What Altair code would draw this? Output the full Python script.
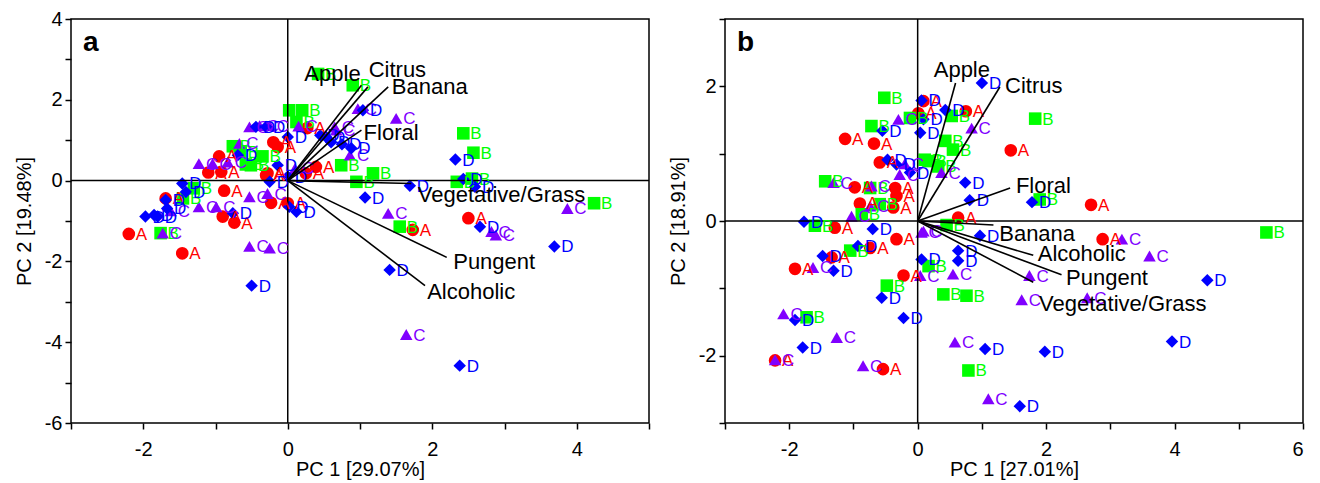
import altair as alt
import pandas as pd

# ---------------- Panel a : scores ----------------
a_A_x = [-2.20, -1.46, -0.88, -0.90, -0.74, -0.23, 0.00, -0.28, -0.14, -0.95, -0.92, -1.69, 0.27, 0.39, 0.25, 1.73, 2.50, -0.20, -1.10, -0.30]
a_A_y = [-1.32, -1.80, -0.25, -0.89, -1.04, -0.55, -0.56, 0.18, 0.83, 0.60, 0.22, -0.44, 1.30, 0.34, 0.18, -1.22, -0.93, 0.95, 0.20, 0.13]
a_B_x = [0.42, 0.90, 0.02, 0.20, 0.12, 0.74, 0.95, 1.18, 1.55, 2.43, 2.57, 2.34, 4.24, 2.55, -0.76, -0.35, -0.51, -0.58, -1.30, -1.45, -1.76, -0.65]
a_B_y = [2.64, 2.36, 1.74, 1.74, 1.45, 0.38, -0.03, 0.18, -1.14, 1.17, 0.69, -0.03, -0.56, 0.05, 0.85, 0.60, 0.38, 0.40, -0.19, -0.44, -1.30, 0.70]
a_C_x = [1.64, 1.39, 2.82, 2.88, 3.87, 1.50, 0.86, 0.67, 0.15, -0.53, -0.25, -1.73, -1.23, -0.99, -0.53, -0.28, -1.23, -1.04, -0.83, -0.53, -0.39, -0.25, -0.67, 0.65, 0.10, 0.97, -1.62]
a_C_y = [-3.81, -0.81, -1.26, -1.35, -0.69, 1.54, 0.63, 1.25, 1.35, -1.63, -1.67, -1.30, -0.65, -0.65, -0.40, -0.32, 0.42, 0.42, 0.46, 1.33, 1.36, 1.36, 0.92, 1.33, 0.30, 1.78, -0.75]
a_D_x = [2.38, 3.69, 1.41, 2.66, -0.50, 2.32, 2.43, 2.59, 1.69, 1.07, 1.04, 0.88, 0.45, 0.60, 0.75, 0.00, 0.02, 0.12, -0.14, -0.25, -0.44, -0.30, -0.69, -1.46, -1.41, -1.69, -1.67, -1.97, -1.80, -1.85, -0.76, 0.53, 0.00]
a_D_y = [-4.58, -1.63, -2.21, -1.14, -2.60, 0.52, 0.04, -0.15, -0.13, -0.42, 1.74, 0.80, 1.12, 0.95, 0.90, 1.08, -0.65, -0.77, 0.38, -0.03, 1.33, 1.33, 0.63, -0.07, -0.28, -0.48, -0.69, -0.89, -0.89, -0.85, -0.81, 1.08, 0.10]

# ---------------- Panel a : loadings ----------------
a_vec_names = ["Apple", "Citrus", "Banana", "Floral", "Vegetative/Grass", "Pungent", "Alcoholic"]
a_vec_x = [1.02, 1.11, 1.39, 1.02, 1.71, 2.20, 1.90]
a_vec_y = [2.36, 2.32, 2.32, 1.25, -0.07, -1.90, -2.60]
a_lab_x = [0.23, 1.12, 1.44, 1.05, 1.80, 2.29, 1.93]
a_lab_y = [2.63, 2.73, 2.31, 1.17, -0.36, -2.01, -2.75]

# ---------------- Panel b : scores ----------------
b_A_x = [1.45, 2.70, 2.88, 0.75, 0.63, 0.01, 0.09, -1.13, -0.68, -0.59, -0.98, -0.35, -0.33, -0.90, -0.38, -1.29, -0.33, -1.91, -1.34, -0.74, -0.22, -0.54, -2.22]
b_A_y = [1.05, 0.24, -0.27, 1.63, 0.05, 1.60, 1.78, 1.22, 1.15, 0.87, 0.50, 0.49, 0.37, 0.26, 0.20, -0.10, -0.27, -0.71, -0.54, -0.40, -0.81, -2.20, -2.07]
b_B_x = [5.43, 1.83, 1.90, 0.43, 0.55, 0.11, 0.32, 0.40, 0.76, 0.45, 0.53, -0.52, -0.72, -1.44, -0.12, 0.17, -0.74, -0.59, -0.87, -1.60, -1.05, -0.48, -1.73, 0.17, 0.79]
b_B_y = [-0.17, 1.52, 0.32, 1.19, 1.06, 0.91, 0.81, -1.09, -1.11, -0.06, 1.56, 1.83, 1.41, 0.59, 1.53, 0.89, 0.49, 0.25, 0.10, -0.07, -0.44, -0.96, -1.43, -0.67, -2.22]
b_C_x = [3.18, 3.61, 1.74, 1.62, 2.64, 0.84, 0.37, 0.06, 0.55, 0.04, 0.58, 1.10, -1.26, -0.85, -2.22, -2.09, -1.63, -1.03, -0.74, 0.09, -1.31, -0.72, -0.30, -0.28, -0.20]
b_C_y = [-0.27, -0.52, -0.81, -1.17, -1.14, 1.38, 0.72, -0.17, -0.79, -0.81, -1.80, -2.64, -1.73, -2.15, -2.06, -1.38, -0.69, 0.07, 0.22, -0.15, 0.57, 0.52, 1.51, 0.69, 0.85]
b_D_x = [4.51, 3.96, 1.98, 1.59, 1.05, 1.78, 1.00, 0.06, 0.43, 0.09, 0.04, -0.55, -0.47, -0.33, -0.12, 0.74, 0.81, -1.77, -0.70, 0.97, 0.63, 0.63, 0.06, -1.48, -1.31, -0.93, -0.56, -0.22, -1.91, -1.79]
b_D_y = [-0.88, -1.79, -1.94, -2.75, -1.90, 0.28, 2.05, 1.79, 1.65, 1.51, 1.31, 1.34, 0.91, 0.84, 0.72, 0.57, 0.31, -0.01, -0.12, -0.22, -0.44, -0.59, -0.57, -0.52, -0.74, -0.37, -1.14, -1.44, -1.47, -1.88]

# ---------------- Panel b : loadings ----------------
b_vec_names = ["Apple", "Citrus", "Floral", "Banana", "Alcoholic", "Pungent", "Vegetative/Grass"]
b_vec_x = [0.59, 1.28, 1.44, 1.18, 1.80, 2.24, 1.80]
b_vec_y = [2.05, 1.99, 0.49, -0.06, -0.51, -0.80, -0.91]
b_lab_x = [0.25, 1.36, 1.53, 1.27, 1.87, 2.31, 1.89]
b_lab_y = [2.25, 2.01, 0.52, -0.19, -0.49, -0.85, -1.23]

GROUPS = ["A", "B", "C", "D"]
COLORS = ["#FF0000", "#00FF00", "#8000FF", "#0000FF"]
SHAPES = ["circle", "square", "triangle-up", "diamond"]
SIZES = [160, 155, 290, 330]

FONT = "Liberation Sans"
LABEL_EXPR = "datum.value % 2 == 0 ? toString(datum.value) : ''"


def scores(groups):
    rows = []
    for g, xs, ys in groups:
        for x, y in zip(xs, ys):
            rows.append({"x": x, "y": y, "g": g})
    return pd.DataFrame(rows)


def vectors(names, vx, vy, lx, ly):
    return pd.DataFrame({"name": names, "ox": [0.0] * len(names), "oy": [0.0] * len(names),
                         "vx": vx, "vy": vy, "lx": lx, "ly": ly})


def panel(df, vec, xdom, ydom, xtitle, ytitle, letter):
    xs = alt.Scale(domain=xdom, nice=False, zero=False)
    ys = alt.Scale(domain=ydom, nice=False, zero=False)
    xaxis = alt.Axis(values=list(range(xdom[0], xdom[1] + 1)), labelExpr=LABEL_EXPR,
                     title=xtitle, labelPadding=10, titlePadding=0)
    yaxis = alt.Axis(values=list(range(ydom[0], ydom[1] + 1)), labelExpr=LABEL_EXPR,
                     title=ytitle, labelPadding=3, titlePadding=10)

    def X(f):
        return alt.X(f, scale=xs, axis=xaxis)

    def Y(f):
        return alt.Y(f, scale=ys, axis=yaxis)

    color = alt.Color("g:N", scale=alt.Scale(domain=GROUPS, range=COLORS), legend=None)
    pts = alt.Chart(df).mark_point(filled=True, opacity=1).encode(
        x=X("x:Q"), y=Y("y:Q"),
        color=color,
        shape=alt.Shape("g:N", scale=alt.Scale(domain=GROUPS, range=SHAPES), legend=None),
        size=alt.Size("g:N", scale=alt.Scale(domain=GROUPS, range=SIZES), legend=None))
    txt = alt.Chart(df).mark_text(align="left", baseline="middle", dx=7, dy=1, fontSize=17,
                                  font=FONT).encode(
        x=X("x:Q"), y=Y("y:Q"), color=color, text="g:N")

    zero = pd.DataFrame({"z": [0.0]})
    vline = alt.Chart(zero).mark_rule(color="black", strokeWidth=1.5).encode(x=X("z:Q"))
    hline = alt.Chart(zero).mark_rule(color="black", strokeWidth=1.5).encode(y=Y("z:Q"))

    rules = alt.Chart(vec).mark_rule(color="black", strokeWidth=1.6).encode(
        x=X("ox:Q"), y=Y("oy:Q"), x2="vx:Q", y2="vy:Q")
    vlabels = alt.Chart(vec).mark_text(align="left", baseline="middle", fontSize=22,
                                       font=FONT, color="black").encode(
        x=X("lx:Q"), y=Y("ly:Q"), text="name:N")

    tag = alt.Chart(pd.DataFrame({"t": [letter]})).mark_text(
        align="left", baseline="middle", fontSize=28, fontWeight="bold", font=FONT,
        color="black").encode(x=alt.value(12), y=alt.value(24), text="t:N")

    return alt.layer(pts, vline, hline, txt, rules, vlabels, tag).properties(width=578, height=404)


df_a = scores([("A", a_A_x, a_A_y), ("B", a_B_x, a_B_y), ("C", a_C_x, a_C_y), ("D", a_D_x, a_D_y)])
df_b = scores([("A", b_A_x, b_A_y), ("B", b_B_x, b_B_y), ("C", b_C_x, b_C_y), ("D", b_D_x, b_D_y)])
vec_a = vectors(a_vec_names, a_vec_x, a_vec_y, a_lab_x, a_lab_y)
vec_b = vectors(b_vec_names, b_vec_x, b_vec_y, b_lab_x, b_lab_y)

pa = panel(df_a, vec_a, [-3, 5], [-6, 4], "PC 1 [29.07%]", "PC 2 [19.48%]", "a")
pb = panel(df_b, vec_b, [-3, 6], [-3, 3], "PC 1 [27.01%]", "PC 2 [18.91%]", "b")

chart = alt.hconcat(pa, pb, spacing=16).properties(
    padding={"left": 5, "top": 0, "right": 5, "bottom": 0}
).configure_view(
    stroke="black", strokeWidth=1.5
).configure_axis(
    domain=False, grid=False, ticks=True, tickColor="black", tickWidth=1.5, tickSize=6,
    labelFont=FONT, labelFontSize=20, labelColor="black",
    titleFont=FONT, titleFontSize=20, titleFontWeight="normal", titleColor="black"
)

chart.save("out.html", embed_options={"renderer": "svg", "actions": False})
